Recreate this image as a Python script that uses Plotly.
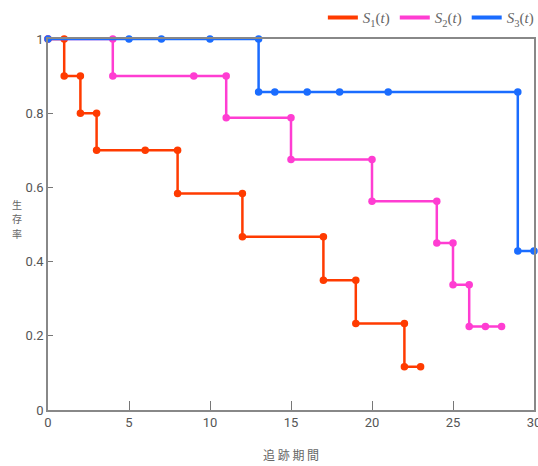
import plotly.graph_objects as go

# Kaplan-Meier step data (vertices of each step curve)
s1_t = [0, 1, 1, 2, 2, 3, 3, 6, 8, 8, 12, 12, 17, 17, 19, 19, 22, 22, 23]
s1_s = [1, 1, 0.9, 0.9, 0.8, 0.8, 0.7, 0.7, 0.7, 0.5833, 0.5833, 0.4667, 0.4667,
        0.35, 0.35, 0.2333, 0.2333, 0.1167, 0.1167]

s2_t = [0, 4, 4, 9, 11, 11, 15, 15, 20, 20, 24, 24, 25, 25, 26, 26, 27, 28]
s2_s = [1, 1, 0.9, 0.9, 0.9, 0.7875, 0.7875, 0.675, 0.675, 0.5625, 0.5625,
        0.45, 0.45, 0.3375, 0.3375, 0.225, 0.225, 0.225]

s3_t = [0, 5, 7, 10, 13, 13, 14, 16, 18, 21, 29, 29, 30]
s3_s = [1, 1, 1, 1, 1, 0.8571, 0.8571, 0.8571, 0.8571, 0.8571, 0.8571, 0.4286, 0.4286]

names = ["<i>S</i><sub>1</sub>(<i>t</i>)", "<i>S</i><sub>2</sub>(<i>t</i>)",
         "<i>S</i><sub>3</sub>(<i>t</i>)"]
colors = ["#ff3b00", "#ff3dd2", "#1a6cff"]

x_ticks = [0, 5, 10, 15, 20, 25, 30]
y_ticks = [0, 0.2, 0.4, 0.6, 0.8, 1]
y_tick_text = ["0", "0.2", "0.4", "0.6", "0.8", "1"]

x_title = "追 跡 期 間"
y_title_chars = ["生", "存", "率"]

fig = go.Figure()
for t, s, c in [(s1_t, s1_s, colors[0]), (s2_t, s2_s, colors[1]), (s3_t, s3_s, colors[2])]:
    fig.add_trace(go.Scatter(x=t, y=s, mode="lines+markers",
                             line=dict(color=c, width=2.5),
                             marker=dict(color=c, size=7.5),
                             cliponaxis=False, showlegend=False, hoverinfo="x+y"))
for n, c in zip(names, colors):
    fig.add_trace(go.Scatter(x=[None], y=[None], mode="lines", name=n,
                             line=dict(color=c, width=4)))

axis_font = dict(family="Roboto, Liberation Sans, sans-serif", size=13, color="#555555")

annotations = [
    dict(text=x_title, xref="paper", yref="paper", x=0.5, y=-0.121,
         xanchor="center", yanchor="middle", showarrow=False,
         font=dict(family="Noto Sans CJK JP", size=12, color="#666666")),
]
for i, ch in enumerate(y_title_chars):
    annotations.append(dict(text=ch, xref="paper", yref="paper", x=-0.064,
                            y=0.555 - i * 0.039, xanchor="center", yanchor="middle",
                            showarrow=False, borderpad=0,
                            font=dict(family="Noto Sans CJK JP", size=10, color="#666666")))

fig.update_layout(
    width=538, height=466,
    margin=dict(l=48, r=4, t=39, b=56, autoexpand=False),
    plot_bgcolor="white", paper_bgcolor="white",
    xaxis=dict(range=[0, 30], tickvals=x_ticks, ticks="inside", ticklen=9,
               tickcolor="#777777", tickwidth=1.2, automargin=False,
               ticklabeloverflow="allow",
               showline=True, linecolor="#888888", linewidth=1.5, mirror=True,
               showgrid=False, zeroline=False, tickfont=axis_font),
    yaxis=dict(range=[0, 1], tickvals=y_ticks, ticktext=y_tick_text, ticks="inside",
               ticklen=5, tickcolor="#777777", tickwidth=1.2, automargin=False,
               ticklabeloverflow="allow",
               showline=True, linecolor="#888888", linewidth=1.5, mirror=True,
               showgrid=False, zeroline=False, tickfont=axis_font),
    legend=dict(orientation="h", x=1.01, xanchor="right", y=1.057, yanchor="middle",
                font=dict(family="Liberation Serif, DejaVu Serif, serif", size=15,
                          color="#666666"),
                bgcolor="rgba(0,0,0,0)", itemwidth=30, tracegroupgap=0),
    annotations=annotations,
)

fig.write_html("out.html", config={"displayModeBar": False},
               post_script="document.body.style.margin='0';")
